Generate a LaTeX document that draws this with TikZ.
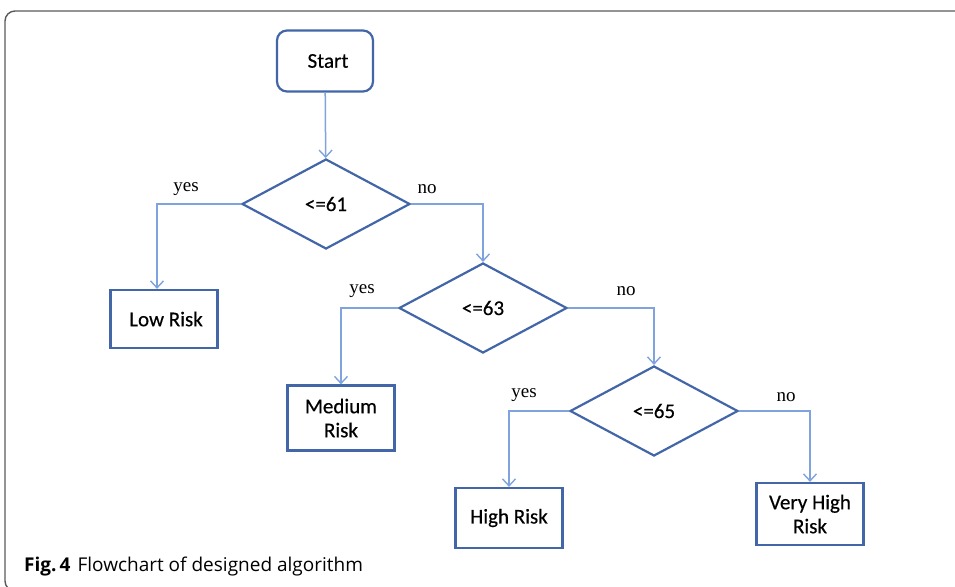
\documentclass[tikz,border=0pt]{standalone}
\usepackage{fontspec}
\setmainfont{Carlito}[FakeBold=0.4]
\newfontfamily\boxfont{Carlito}[FakeBold=0.4]
\newfontfamily\lblfont{Liberation Serif}
\newfontfamily\capfont{Open Sans}
\usetikzlibrary{shapes.geometric,arrows.meta}
\definecolor{boxblue}{HTML}{4266A8}
\definecolor{arrblue}{HTML}{7FA3DC}
\definecolor{framegray}{HTML}{5A5A5A}
\tikzset{
  boxnode/.style={draw=boxblue, line width=2.2pt, fill=white, font=\boxfont\fontsize{21}{24}\selectfont, align=center, inner sep=0pt},
  dec/.style={draw=boxblue, line width=2.2pt, diamond, aspect=1.87, minimum width=168pt, minimum height=90pt, inner sep=0pt, font=\boxfont\fontsize{21}{24}\selectfont},
  conn/.style={draw=arrblue, line width=1.5pt, -{Straight Barb[length=7pt,width=13pt,line width=1.4pt]}},
  lbl/.style={font=\lblfont\fontsize{19}{22}\selectfont, text=black}
}
\begin{document}
\begin{tikzpicture}[x=1pt,y=-1pt]
\useasboundingbox (0,0) rectangle (955,586);
% frame
\begin{scope}
\clip (0,0) rectangle (955,586);
\draw[framegray, line width=1.4pt, rounded corners=10pt] (960,11) -- (5,11) -- (5,591) -- (40,591);
\end{scope}
% nodes
\node[boxnode, rounded corners=10pt, minimum width=96pt, minimum height=61pt] (start) at (325,61) {\hspace*{6pt}Start};
\node[dec] (d1) at (326,204) {{<}=61};
\node[dec] (d2) at (483,308) {{<}=63};
\node[dec] (d3) at (654,411) {{<}=65};
\node[boxnode, minimum width=107pt, minimum height=58pt] (low) at (164,319) {\hspace*{4pt}Low Risk};
\node[boxnode, minimum width=107pt, minimum height=65pt] (med) at (341,418) {Medium\\Risk};
\node[boxnode, minimum width=107pt, minimum height=60pt] (high) at (509,518) {High Risk};
\node[boxnode, minimum width=107pt, minimum height=62pt] (vhigh) at (810,514) {Very High\\Risk};
% connectors
\draw[conn] (start) -- (d1);
\draw[conn] (d1.west) -| ([xshift=-7pt]low.north);
\draw[conn] (d1.east) -| (d2.north);
\draw[conn] (d2.west) -| (med.north);
\draw[conn] (d2.east) -| (d3.north);
\draw[conn] (d3.west) -| (high.north);
\draw[conn] (d3.east) -| (vhigh.north);
% labels
\node[lbl] (y1) at (186,189) {yes};
\node[lbl] (n1) at (427,189) {no};
\node[lbl] (y2) at (362,291) {yes};
\node[lbl] (n2) at (626,291) {no};
\node[lbl] (y3) at (524,395) {yes};
\node[lbl] (n3) at (786,397) {no};
% caption
\node[anchor=west, inner sep=0pt, font=\capfont\fontsize{19}{22}\selectfont] (cap) at (24,567) {\textbf{Fig.\,4}\hspace{7pt}Flowchart of designed algorithm};
\end{tikzpicture}
\end{document}
